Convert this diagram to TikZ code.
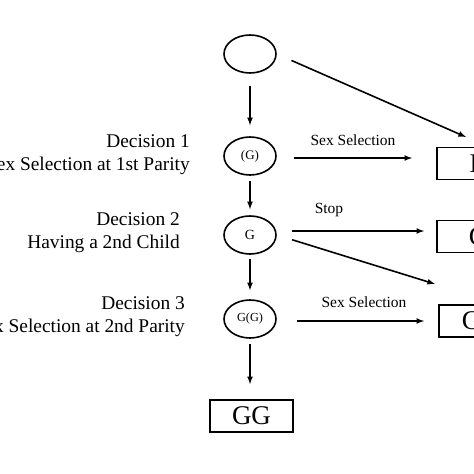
\documentclass[tikz,border=0pt]{standalone}
\usepackage{fontspec}
\setmainfont{Liberation Serif}
\usetikzlibrary{shapes,arrows,positioning,calc}

\begin{document}
\begin{tikzpicture}[
			x = 1pt, y = -1pt,
			every node/.style = {inner sep = 0},
			circ/.style = {ellipse, draw, line width = 1.6pt, minimum width = 52pt, minimum height = 38pt},
			res/.style = {rectangle, draw, line width = 1.8pt, minimum width = 83pt, minimum height = 32pt, font = \fontsize{27}{27}\selectfont},
			arr/.style = {-latex, line width = 1.6pt},
			lab/.style = {font = \fontsize{15.5}{18}\selectfont},
			dec/.style = {anchor = east, align = right, font = \fontsize{19.4}{23}\selectfont}]

			\useasboundingbox (0,0) rectangle (474,474);

			% decision tree
			\node[circ] (n0) at (250,54) {};
			\node[circ, font = \fontsize{13}{13}\selectfont] (n1) at (250,156) {(G)};
			\node[circ, font = \fontsize{14}{14}\selectfont] (n2) at (250,235) {G};
			\node[circ, font = \fontsize{12.3}{12.3}\selectfont] (n3) at (250,319) {G(G)};

			\node[res] (bGG) at (251.5,416) {GG};
			\node[res] (bB) at (478.5,163.5) {B};
			\node[res] (bG) at (478.5,236.5) {G};
			\node[res] (bGB) at (480.5,321) {GB};

			\draw[arr, shorten <= 12pt, shorten >= 11pt] (n0) -- (n1);
			\draw[arr, shorten <= 5pt, shorten >= 6pt] (n1) -- (n2);
			\draw[arr, shorten <= 4pt, shorten >= 9pt] (n2) -- (n3);
			\draw[arr, shorten <= 5pt, shorten >= 15pt] (n3) -- (n3 |- bGG.north);

			\draw[arr, shorten <= 17pt, shorten >= 24pt] (n1.east |- 0,158) -- (bB.west |- 0,158);
			\draw[arr, shorten <= 15pt, shorten >= 12pt] (n2.east |- 0,231) -- (bG.west |- 0,231);
			\draw[arr, shorten <= 20pt, shorten >= 14pt] (n3.east |- 0,321) -- (bGB.west);

			\coordinate (d1) at (466,137);
			\coordinate (d2) at (435,284);
			\draw[arr, shorten <= 16pt] (n0.east) -- (d1);
			\draw[arr, shorten <= 16pt] (n2.east) -- (d2);

			\node[lab] (s1) at (353,140) {Sex Selection};
			\node[lab] (s2) at (329,210) {Stop};
			\node[lab] (s3) at (364,302) {Sex Selection};

			\node[dec] (dec1) at (190,154.5) {Decision 1\\Sex Selection at 1st Parity};
			\node[dec] (dec2) at (180,233) {Decision 2\\Having a 2nd Child};
			\node[dec] (dec3) at (185,317) {Decision 3\\Sex Selection at 2nd Parity};

		\end{tikzpicture}
\end{document}
